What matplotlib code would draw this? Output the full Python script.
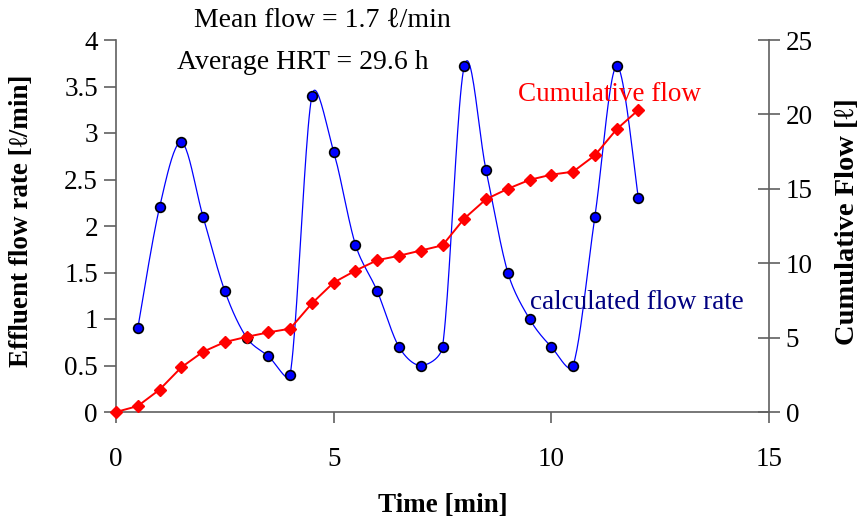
import numpy as np
import matplotlib
matplotlib.use("Agg")
import matplotlib.pyplot as plt
from matplotlib.ticker import FormatStrFormatter

plt.rcParams['font.family'] = ['Liberation Serif', 'DejaVu Serif']

# data
t_flow = [0.5, 1, 1.5, 2, 2.5, 3, 3.5, 4, 4.5, 5, 5.5, 6, 6.5, 7, 7.5, 8,
          8.5, 9, 9.5, 10, 10.5, 11, 11.5, 12]
flow = [0.9, 2.2, 2.9, 2.1, 1.3, 0.8, 0.6, 0.4, 3.4, 2.8, 1.8, 1.3, 0.7, 0.5,
        0.7, 3.72, 2.6, 1.5, 1.0, 0.7, 0.5, 2.1, 3.72, 2.3]
t_cum = [0, 0.5, 1, 1.5, 2, 2.5, 3, 3.5, 4, 4.5, 5, 5.5, 6, 6.5, 7, 7.5, 8,
         8.5, 9, 9.5, 10, 10.5, 11, 11.5, 12]
cum = [0, 0.4, 1.5, 3.0, 4.05, 4.7, 5.05, 5.35, 5.6, 7.3, 8.7, 9.5, 10.2,
       10.5, 10.85, 11.2, 13.0, 14.3, 15.0, 15.6, 15.95, 16.15, 17.25, 19.0, 20.3]


def smooth(x, y, sx, sy, k=0.4, n=24):
    # catmull-rom bezier in screen units (sx, sy = pixels per data unit),
    # control arms capped by a share of the segment length
    p = np.column_stack([np.asarray(x, float) * sx, np.asarray(y, float) * sy])
    m = len(p)
    tang = np.zeros_like(p)
    for i in range(m):
        tang[i] = (p[min(i + 1, m - 1)] - p[max(i - 1, 0)]) / 6
    s = np.linspace(0, 1, n)[:, None]
    out = []
    for i in range(m - 1):
        p1, p2 = p[i], p[i + 1]
        L = np.hypot(*(p2 - p1))
        a1, a2 = tang[i], tang[i + 1]
        n1, n2 = np.hypot(*a1), np.hypot(*a2)
        if n1 > k * L:
            a1 = a1 * k * L / n1
        if n2 > k * L:
            a2 = a2 * k * L / n2
        c1 = p1 + a1
        c2 = p2 - a2
        b = (1 - s) ** 3 * p1 + 3 * (1 - s) ** 2 * s * c1 \
            + 3 * (1 - s) * s ** 2 * c2 + s ** 3 * p2
        out.append(b)
    b = np.vstack(out)
    return b[:, 0] / sx, b[:, 1] / sy


axcol = '#606060'
fs = 19.5

fig = plt.figure(figsize=(8.66, 5.19), dpi=100)
ax = fig.add_axes([116 / 866, 1 - 412 / 519, 653 / 866, 372 / 519])
ax2 = ax.twinx()

cx, cy = smooth(t_flow, flow, 653 / 15, 372 / 4)
ax.plot(cx, cy, color='#0000FF', lw=0.9, zorder=2)
ax.plot(t_flow, flow, ls='none', marker='o', ms=7, mfc='#0000FF',
        mec='black', mew=1.2, zorder=3)

ax2.plot(t_cum, cum, color='#FF0000', lw=1.4, marker='D', ms=6,
         mfc='#FF0000', mec='#FF0000', clip_on=False)

ax.set_xlim(0, 15)
ax.set_ylim(0, 4)
ax2.set_ylim(0, 25)
ax.set_xticks([0, 5, 10, 15])
ax.set_yticks(np.arange(0, 4.01, 0.5))
ax2.set_yticks([0, 5, 10, 15, 20, 25])
ax.yaxis.set_major_formatter(FormatStrFormatter('%g'))

for a in (ax, ax2):
    a.spines['top'].set_visible(False)
    for sp in a.spines.values():
        sp.set_color(axcol)
        sp.set_linewidth(1.2)
ax.spines['right'].set_visible(False)
ax2.spines['left'].set_visible(False)
ax2.spines['bottom'].set_visible(False)

ax.tick_params(axis='y', direction='out', length=9, width=1.2, color=axcol,
               labelsize=fs, pad=4)
ax.tick_params(axis='x', direction='out', length=8, width=1.2, color=axcol,
               labelsize=fs, pad=17)
ax2.tick_params(axis='y', direction='inout', length=16, width=1.2,
                color=axcol, labelsize=fs, pad=4)

ax.text(4.74, 4.21, 'Mean flow = 1.7 ℓ/min', fontsize=20, ha='center',
        va='center', clip_on=False)
ax.text(4.28, 3.76, 'Average HRT = 29.6 h', fontsize=20, ha='center',
        va='center')
ax.text(9.24, 3.41, 'Cumulative flow', fontsize=fs, color='#FF0000',
        ha='left', va='center')
ax.text(9.52, 1.18, 'calculated flow rate', fontsize=fs, color='#000080',
        ha='left', va='center')

fig.text(443 / 866, 1 - 505 / 519, 'Time [min]', fontsize=fs,
         fontweight='bold', ha='center', va='center')
fig.text(22 / 866, 1 - 221 / 519, 'Effluent flow rate [ℓ/min]', fontsize=fs,
         fontweight='bold', ha='center', va='center', rotation=90)
fig.text(848 / 866, 1 - 222 / 519, 'Cumulative Flow [ℓ]', fontsize=20.5,
         fontweight='bold', ha='center', va='center', rotation=90)

fig.savefig('out.png', dpi=100)
